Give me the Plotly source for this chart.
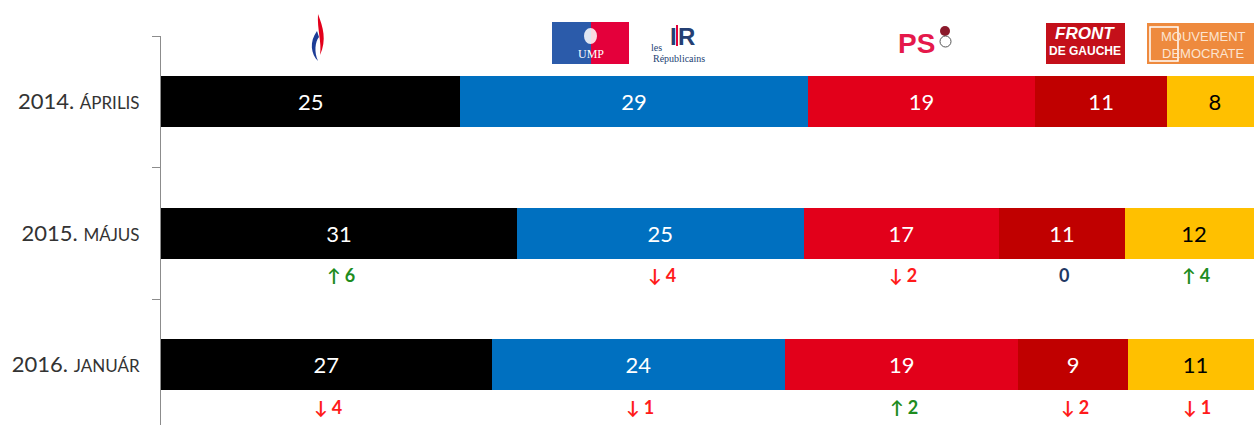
import plotly.graph_objects as go

# ---------------- data ----------------
years = ["2014.", "2015.", "2016."]
months = ["ÁPRILIS", "MÁJUS", "JANUÁR"]
parties = ["FN", "UMP / LR", "PS", "Front de Gauche", "MoDem"]
fn = [25, 31, 27]
ump_lr = [29, 25, 24]
ps = [19, 17, 19]
fdg = [11, 11, 9]
modem = [8, 12, 11]
# change vs previous survey (None = first survey)
chg_fn = [None, 6, -4]
chg_ump = [None, -4, -1]
chg_ps = [None, -2, 2]
chg_fdg = [None, 0, -2]
chg_modem = [None, 4, -1]

series = [fn, ump_lr, ps, fdg, modem]
changes = [chg_fn, chg_ump, chg_ps, chg_fdg, chg_modem]
colors = ["#000000", "#0070C0", "#E2001A", "#C00000", "#FFC000"]
text_colors = ["white", "white", "white", "white", "black"]

cats = [f"{y} {m}" for y, m in zip(years, months)]
ticktext = [f"{y} <span style='font-size:17px'>{m}</span>" for y, m in zip(years, months)]

FONT = "Lato, 'Open Sans', sans-serif"

fig = go.Figure()
for name, vals, col, tc in zip(parties, series, colors, text_colors):
    fig.add_trace(go.Bar(
        y=cats, x=vals, name=name, orientation="h",
        marker=dict(color=col, line=dict(width=0)),
        text=vals, texttemplate="%{text}", textposition="inside",
        insidetextanchor="middle",
        textfont=dict(color=tc, size=22, family=FONT),
        hoverinfo="skip",
    ))

# change annotations under bars (positions from normalized cumulative sums)
annotations = []
for r in range(len(cats)):
    total = sum(s[r] for s in series)
    cum = 0.0
    for s, ch in zip(series, changes):
        share = s[r] / total * 100
        center = cum + share / 2
        cum += share
        c = ch[r]
        if c is None:
            continue
        if c > 0:
            txt, col = f"↑ {c}", "#1E8C1E"
        elif c < 0:
            txt, col = f"↓ {abs(c)}", "#FF1A1A"
        else:
            txt, col = "0", "#1F3864"
        annotations.append(dict(
            x=center, y=cats[r], xref="x", yref="y", text=f"<b>{txt}</b>",
            showarrow=False, yshift=-42, xshift=2,
            font=dict(size=18, color=col, family=FONT),
        ))

# ------------- logo approximations (page pixel -> paper) -------------
L, T, W, H = 161, 36, 1093, 389


def px(x):
    return (x - L) / W


def py(y):
    return 1 - (y - T) / H


def path(points_cmds):
    out = []
    for cmd, pts in points_cmds:
        s = cmd
        for (x, y) in pts:
            s += f" {px(x):.5f},{py(y):.5f}"
        out.append(s)
    return " ".join(out) + " Z"


shapes = []
# FN flame
shapes.append(dict(type="path", xref="paper", yref="paper", line=dict(width=0), fillcolor="#E3001B",
                   path=path([("M", [(318, 14)]), ("C", [(323, 27), (327, 40), (320, 55)]),
                              ("C", [(322, 42), (317, 30), (318, 14)])])))
shapes.append(dict(type="path", xref="paper", yref="paper", line=dict(width=0), fillcolor="#1D3D96",
                   path=path([("M", [(317, 31)]), ("C", [(309, 42), (311, 54), (318, 61)]),
                              ("C", [(314, 52), (315, 42), (319, 37)])])))
# UMP box
shapes.append(dict(type="rect", xref="paper", yref="paper", x0=px(552), x1=px(591), y0=py(64), y1=py(22),
                   fillcolor="#2B5BAA", line=dict(width=0)))
shapes.append(dict(type="rect", xref="paper", yref="paper", x0=px(591), x1=px(629), y0=py(64), y1=py(22),
                   fillcolor="#E4003B", line=dict(width=0)))
shapes.append(dict(type="circle", xref="paper", yref="paper", x0=px(584), x1=px(597), y0=py(44), y1=py(28),
                   fillcolor="rgba(255,255,255,0.85)", line=dict(width=0)))
# LR red bar
shapes.append(dict(type="rect", xref="paper", yref="paper", x0=px(676), x1=px(678), y0=py(46), y1=py(25),
                   fillcolor="#E4003B", line=dict(width=0)))
# PS rose
shapes.append(dict(type="circle", xref="paper", yref="paper", x0=px(940), x1=px(950), y0=py(36), y1=py(26),
                   fillcolor="#8B1A2B", line=dict(width=0)))
shapes.append(dict(type="circle", xref="paper", yref="paper", x0=px(940), x1=px(951), y0=py(47), y1=py(36),
                   fillcolor="white", line=dict(width=1, color="#555555")))
# Front de Gauche box
shapes.append(dict(type="rect", xref="paper", yref="paper", x0=px(1046), x1=px(1125), y0=py(64), y1=py(23),
                   fillcolor="#C4101A", line=dict(width=0)))
# MoDem box
shapes.append(dict(type="rect", xref="paper", yref="paper", x0=px(1147), x1=px(1262), y0=py(64), y1=py(23),
                   fillcolor="#EE8A3E", line=dict(width=0)))
shapes.append(dict(type="rect", xref="paper", yref="paper", x0=px(1150), x1=px(1178), y0=py(61), y1=py(27),
                   fillcolor="rgba(0,0,0,0)", line=dict(width=1.5, color="white")))


def logo_text(x, y, text, size, color, family="Liberation Sans, sans-serif"):
    annotations.append(dict(x=px(x), y=py(y), xref="paper", yref="paper", text=text, showarrow=False,
                            xanchor="center", yanchor="middle",
                            font=dict(size=size, color=color, family=family)))


logo_text(591, 54, "UMP", 12, "white", "Liberation Serif, serif")
logo_text(673, 36, "<b>I</b>", 24, "#243F73")
logo_text(686, 36, "<b>R</b>", 24, "#243F73")
logo_text(656, 48, "les", 10, "#243F73", "Liberation Serif, serif")
logo_text(679, 58, "Républicains", 10, "#243F73", "Liberation Serif, serif")
logo_text(916, 44, "<b>PS</b>", 28, "#E5194B", "Liberation Sans, sans-serif")
logo_text(1085, 34, "<b><i>FRONT</i></b>", 17, "white")
logo_text(1085, 51, "<b>DE GAUCHE</b>", 12, "white")
logo_text(1203, 36, "MOUVEMENT", 13, "#FCE4D0")
logo_text(1203, 53, "DEMOCRATE", 13, "#FCE4D0")

fig.update_layout(
    barmode="stack", barnorm="percent", bargap=0.61,
    width=1254, height=425,
    margin=dict(l=L, r=0, t=T, b=0, autoexpand=False),
    plot_bgcolor="white", paper_bgcolor="white",
    showlegend=False,
    xaxis=dict(range=[0, 99.2], visible=False, fixedrange=True),
    yaxis=dict(
        type="category", categoryorder="array", categoryarray=cats,
        range=[2.458, -0.5], tickmode="array", tickvals=cats, ticktext=ticktext,
        tickson="boundaries", ticks="outside", ticklen=8, tickcolor="#8C8C8C",
        showline=True, linecolor="#8C8C8C", linewidth=1, showgrid=False,
        tickfont=dict(size=22, color="#333333", family=FONT),
        ticklabelstandoff=16, fixedrange=True,
    ),
    shapes=shapes, annotations=annotations,
)

# remove the default 8px page margin so the figure fills the window exactly
fig.write_html("out.html",
               config={"displayModeBar": False, "staticPlot": True},
               post_script="document.body.style.margin='0';document.body.style.overflow='hidden';")
